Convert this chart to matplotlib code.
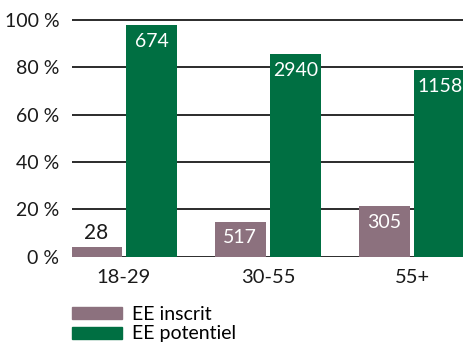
import matplotlib.pyplot as plt
import numpy as np
from matplotlib.patches import Patch

# age groups and counts shown on the bars
groups = ["18-29", "30-55", "55+"]
inscrit_count = [28, 517, 305]
potentiel_count = [674, 2940, 1158]

# bar heights in percent
inscrit_pct = [4.2, 14.7, 21.4]
potentiel_pct = [97.9, 85.6, 78.9]

yticks = [0, 20, 40, 60, 80, 100]

MAUVE = "#8c717e"
GREEN = "#006f42"

plt.rcParams['font.family'] = ['Lato', 'DejaVu Sans']

fig = plt.figure(figsize=(4.64, 3.42), dpi=100)
ax = fig.add_axes([0.155, 0.2494, 0.845, 0.7055])

x = np.arange(len(groups))
w = 0.352
off = 0.192

bars1 = ax.bar(x - off, inscrit_pct, w, color=MAUVE, zorder=3)
bars2 = ax.bar(x + off, potentiel_pct, w, color=GREEN, zorder=3)

ax.set_xlim(-0.361, 2.361)
ax.set_ylim(0, 102)

for y in yticks:
    ax.axhline(y, color="#1a1a1a", lw=1.3, zorder=1)

ax.set_yticks(yticks)
ax.set_yticklabels([f"{v} %" for v in yticks], fontsize=14, color="#1a1a1a")
ax.set_xticks(x)
ax.set_xticklabels(groups, fontsize=14.5, color="#1a1a1a")
ax.tick_params(length=0, pad=9)
ax.tick_params(axis="y", pad=9)
for s in ax.spines.values():
    s.set_visible(False)

# counts: inside the bar when it is tall enough, above it otherwise
for bars, counts in ((bars1, inscrit_count), (bars2, potentiel_count)):
    for b, c in zip(bars, counts):
        cx = b.get_x() + b.get_width() / 2
        h = b.get_height()
        if h < 8:
            ax.annotate(str(c), (cx, h), xytext=(0, 14), textcoords="offset pixels",
                        ha="center", va="center", fontsize=15, color="#1a1a1a")
        else:
            ax.annotate(str(c), (cx, h), xytext=(0, -16), textcoords="offset pixels",
                        ha="center", va="center", fontsize=14, color="white")

handles = [Patch(color=MAUVE, label="EE inscrit"), Patch(color=GREEN, label="EE potentiel")]
fig.legend(handles=handles, loc="upper left", bbox_to_anchor=(0.155, 0.106),
           frameon=False, fontsize=14, handlelength=2.58, handleheight=0.57,
           handletextpad=0.5, labelspacing=0.14, borderpad=0, borderaxespad=0)

fig.savefig("out.png", dpi=100)
